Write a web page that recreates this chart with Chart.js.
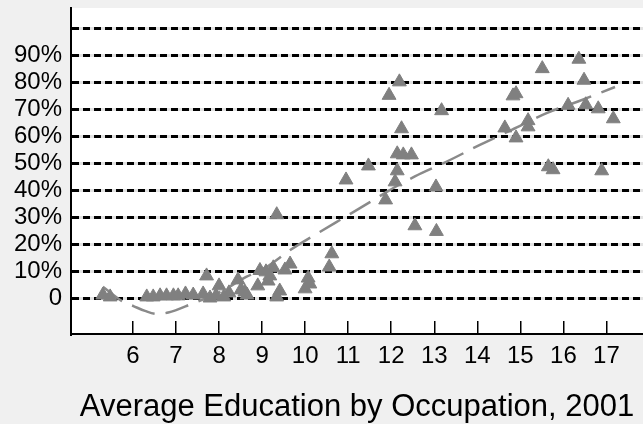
<!DOCTYPE html>
<html>
<head>
<meta charset="utf-8">
<script src="https://cdn.jsdelivr.net/npm/chart.js@4"></script>
<style>
  html, body { margin: 0; padding: 0; background: #f0f0f0; }
  #wrap { width: 643px; height: 424px; position: relative; }
</style>
</head>
<body>
<div id="wrap"><canvas id="eduChart"></canvas></div>
<script>
// Occupation points: average years of education vs percent
const eduX = [5.30, 5.47, 6.32, 6.47, 6.63, 6.78, 6.94, 7.05, 7.22, 7.40, 7.63, 7.71, 7.79, 7.93, 8.00,
  8.11, 8.23, 8.44, 8.51, 8.60, 8.65, 8.90, 8.95, 9.09, 9.14, 9.18, 9.26, 9.34, 9.34, 9.41, 9.53, 9.65,
  10.00, 10.07, 10.11, 10.56, 10.62, 10.95, 11.47, 11.87, 11.95, 12.09, 12.14, 12.14, 12.19, 12.24, 12.28,
  12.47, 12.55, 13.04, 13.05, 13.17, 14.64, 14.83, 14.90, 14.90, 15.18, 15.18, 15.51, 15.65, 15.76,
  16.11, 16.36, 16.48, 16.52, 16.81, 16.89, 17.16];
const pctY = [1.2, 0.5, 0.5, 0.5, 0.9, 0.9, 0.9, 0.9, 1.6, 1.2, 1.6, 8.3, 0.1, 0.9, 4.6,
  0.5, 2.0, 6.8, 3.1, 2.3, 1.2, 4.6, 10.3, 9.8, 6.4, 8.3, 11.3, 31, 0.5, 2.7, 10.5, 12.7,
  3.5, 7.5, 5.3, 11.6, 16.5, 43.9, 49.1, 36.5, 75.3, 43.2, 47.3, 53.6, 80.3, 62.9, 53.2,
  53.2, 26.9, 41.3, 24.8, 69.6, 63.2, 75.1, 75.9, 59.5, 65.9, 63.6, 85.2, 48.8, 47.7,
  71.6, 88.7, 80.9, 71.8, 70.3, 47.3, 66.6];

// Smoothed trend
const trendX = [5.30, 5.77, 6.01, 6.28, 6.55, 6.82, 7.36, 8.02, 8.64, 9.11, 9.60, 9.84, 10.34, 11.08,
  11.85, 12.05, 12.55, 13.29, 14.06, 14.80, 15.61, 16.34, 17.20];
const trendY = [4.3, -1.3, -2.9, -4.7, -5.8, -5.3, -2.1, 2.3, 8.0, 11.7, 17.3, 19.8, 24.6, 31.6,
  39.0, 40.9, 45.2, 50.7, 56.9, 62.5, 68.7, 73.0, 78.4];

const xTicks = [6, 7, 8, 9, 10, 11, 12, 13, 14, 15, 16, 17];
const yTicks = [0, 10, 20, 30, 40, 50, 60, 70, 80, 90, 100];
const yTickLabels = ['0', '10%', '20%', '30%', '40%', '50%', '60%', '70%', '80%', '90%', ''];

const X_MIN = 4.56, X_MAX = 17.85;
const Y_MIN = -13.26, Y_MAX = 107.7;

const fontFamily = "'Liberation Sans', Arial, Helvetica, sans-serif";

// white plot area on grey page
const plotBg = {
  id: 'plotBg',
  beforeDraw(chart) {
    const { ctx, chartArea: a } = chart;
    ctx.save();
    ctx.fillStyle = '#ffffff';
    ctx.fillRect(a.left, a.top, a.right - a.left, a.bottom - a.top);
    ctx.restore();
  }
};

const points = eduX.map((x, i) => ({ x: x, y: pctY[i] }));
const trend = trendX.map((x, i) => ({ x: x, y: trendY[i] }));

function setYTicks(scale) {
  scale.ticks = yTicks.map(v => ({ value: v }));
}

new Chart(document.getElementById('eduChart'), {
  type: 'scatter',
  data: {
    datasets: [
      {
        data: points,
        pointStyle: 'triangle',
        pointRadius: 8,
        backgroundColor: '#808080',
        borderColor: '#808080',
        borderWidth: 1,
        order: 0
      },
      {
        data: trend,
        showLine: true,
        pointRadius: 0,
        borderColor: '#8a8a8a',
        borderWidth: 2.5,
        borderDash: [24, 11],
        cubicInterpolationMode: 'monotone',
        fill: false,
        order: 1
      }
    ]
  },
  options: {
    responsive: true,
    maintainAspectRatio: false,
    animation: false,
    layout: { autoPadding: false, padding: { top: 8, right: 0, bottom: 0, left: 0 } },
    plugins: { legend: { display: false }, tooltip: { enabled: false } },
    scales: {
      x: {
        type: 'linear',
        position: 'bottom',
        min: X_MIN,
        max: X_MAX,
        afterBuildTicks: (s) => { s.ticks = xTicks.map(v => ({ value: v })); },
        afterFit: (s) => { s.height = 90; s.paddingLeft = 0; s.paddingRight = 0; },
        ticks: {
          font: { size: 24, family: fontFamily },
          color: '#000',
          padding: 21,
          maxRotation: 0,
          autoSkip: false,
          callback: (v) => String(v)
        },
        grid: { drawOnChartArea: false, drawTicks: true, tickLength: -13, color: '#000', lineWidth: 1.5 },
        border: { display: true, color: '#000', width: 2 },
        title: {
          display: true,
          text: 'Average Education by Occupation, 2001',
          font: { size: 31, family: fontFamily },
          color: '#000',
          padding: { top: 0, bottom: -2 }
        }
      },
      yBg: {
        type: 'linear',
        position: 'left',
        min: Y_MIN,
        max: Y_MAX,
        afterBuildTicks: setYTicks,
        afterFit: (s) => { s.width = 0; s.paddingTop = 0; s.paddingBottom = 0; },
        ticks: { display: false },
        grid: { color: '#e2e2e2', lineWidth: 3, drawTicks: false, z: -2 },
        border: { display: false }
      },
      y: {
        type: 'linear',
        position: 'left',
        min: Y_MIN,
        max: Y_MAX,
        afterBuildTicks: setYTicks,
        afterFit: (s) => { s.width = 71; s.paddingTop = 0; s.paddingBottom = 0; },
        ticks: {
          font: { size: 24, family: fontFamily },
          color: '#000',
          padding: 9,
          callback: (v) => yTickLabels[yTicks.indexOf(v)]
        },
        grid: { color: '#000', lineWidth: 3, drawTicks: false, z: -1 },
        border: { display: true, color: '#000', width: 2, dash: [7, 4] }
      }
    }
  },
  plugins: [plotBg]
});
</script>
</body>
</html>
